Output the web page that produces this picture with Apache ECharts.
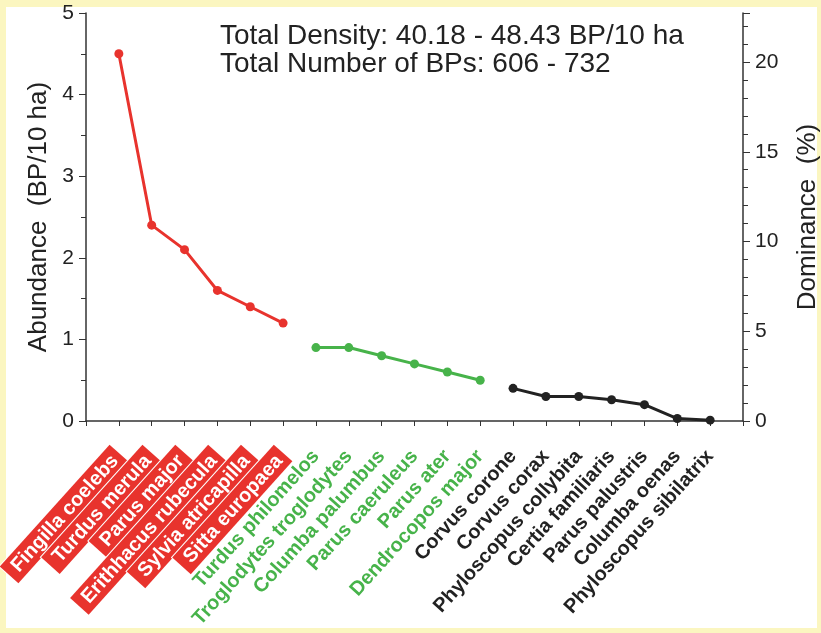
<!DOCTYPE html>
<html lang="en">
<head>
<meta charset="UTF-8">
<style>
html, body { height: 100%; margin: 0; background: #fbf6c0; }
#paper { position: absolute; left: 6px; top: 7px; width: 811px; height: 621px; background: #fff; }
#chart { position: absolute; left: 0; top: 0; width: 821px; height: 633px; }
</style>
</head>
<body>
<div id="paper"></div>
<div id="chart"></div>
<script src="https://cdn.jsdelivr.net/npm/echarts@6/dist/echarts.min.js"></script>
<script>
var redSpecies = ['Fingilla coelebs', 'Turdus merula', 'Parus major', 'Erithhacus rubecula', 'Sylvia atricapilla', 'Sitta europaea'];
var redAbundance = [4.5, 2.4, 2.1, 1.6, 1.4, 1.2];
var greenSpecies = ['Turdus philomelos', 'Troglodytes troglodytes', 'Columba palumbus', 'Parus caeruleus', 'Parus ater', 'Dendrocopos major'];
var greenAbundance = [0.9, 0.9, 0.8, 0.7, 0.6, 0.5];
var blackSpecies = ['Corvus corone', 'Corvus corax', 'Phyloscopus collybita', 'Certia familiaris', 'Parus palustris', 'Columba oenas', 'Phyloscopus sibilatrix'];
var blackAbundance = [0.4, 0.3, 0.3, 0.26, 0.2, 0.03, 0.01];
var infoLines = ['Total Density: 40.18 - 48.43 BP/10 ha', 'Total Number of BPs: 606 - 732'];

// empty slots at both ends so the points sit away from the axes
var categories = [''].concat(redSpecies, greenSpecies, blackSpecies, ['']);

function pad(values, offset) {
    var out = [];
    for (var i = 0; i < categories.length; i++) out.push(null);
    for (var j = 0; j < values.length; j++) out[offset + 1 + j] = values[j];
    return out;
}

var font = '"Liberation Sans", Arial, sans-serif';
var RED = '#e8332d', GREEN = '#47b34a', BLACK = '#222';

var myChart = echarts.init(document.getElementById('chart'));
myChart.setOption({
    backgroundColor: 'transparent',
    animation: false,
    textStyle: { fontFamily: font },
    grid: { left: 86, right: 78, top: 13, bottom: 212, outerBoundsMode: 'none' },
    graphic: infoLines.map(function (t, i) {
        return {
            type: 'text', left: 220, top: 22 + i * 28,
            style: { text: t, font: '28px ' + font, fill: '#222' }
        };
    }),
    xAxis: {
        type: 'category',
        data: categories,
        boundaryGap: false,
        axisLine: { lineStyle: { color: '#333', width: 1.5 } },
        axisTick: { interval: 0, length: 5, lineStyle: { color: '#333' } },
        axisLabel: {
            interval: 0,
            rotate: 48,
            margin: 32,
            fontSize: 20,
            fontWeight: 'bold',
            formatter: function (v) {
                if (redSpecies.indexOf(v) >= 0) return '{r|' + v + '}';
                if (greenSpecies.indexOf(v) >= 0) return '{g|' + v + '}';
                return '{k|' + v + '}';
            },
            rich: {
                r: { color: '#fff', backgroundColor: RED, borderColor: '#fff', borderWidth: 1,
                     padding: [3, 6, 2, 8], fontSize: 20, fontWeight: 'bold', fontFamily: font },
                g: { color: GREEN, fontSize: 20, fontWeight: 'bold', fontFamily: font },
                k: { color: BLACK, fontSize: 20, fontWeight: 'bold', fontFamily: font }
            }
        }
    },
    yAxis: [{
        type: 'value',
        min: 0, max: 5, interval: 1,
        name: 'Abundance  (BP/10 ha)',
        nameLocation: 'middle',
        nameGap: 34,
        nameTextStyle: { fontSize: 26, color: '#222' },
        axisLine: { show: true, lineStyle: { color: '#333', width: 1.5 } },
        axisTick: { show: true, length: 7, lineStyle: { color: '#333' } },
        minorTick: { show: true, splitNumber: 2, length: 5, lineStyle: { color: '#333' } },
        axisLabel: { fontSize: 21, color: '#222', margin: 12 },
        splitLine: { show: false }
    }, {
        type: 'value',
        position: 'right',
        min: 0, max: 22.73, interval: 5,
        name: 'Dominance  (%)',
        nameLocation: 'middle',
        nameGap: 52,
        nameRotate: 90,
        nameTextStyle: { fontSize: 26, color: '#222' },
        axisLine: { show: true, lineStyle: { color: '#333', width: 1.5 } },
        axisTick: { show: true, length: 7, lineStyle: { color: '#333' } },
        minorTick: { show: true, splitNumber: 5, length: 5, lineStyle: { color: '#333' } },
        axisLabel: { fontSize: 21, color: '#222', margin: 12, showMaxLabel: false },
        splitLine: { show: false }
    }],
    series: [
        { data: pad(redAbundance, 0), color: RED },
        { data: pad(greenAbundance, redSpecies.length), color: GREEN },
        { data: pad(blackAbundance, redSpecies.length + greenSpecies.length), color: BLACK }
    ].map(function (s) {
        return {
            type: 'line', data: s.data,
            symbol: 'circle', symbolSize: 9,
            lineStyle: { color: s.color, width: 3 },
            itemStyle: { color: s.color }
        };
    })
});
</script>
</body>
</html>
